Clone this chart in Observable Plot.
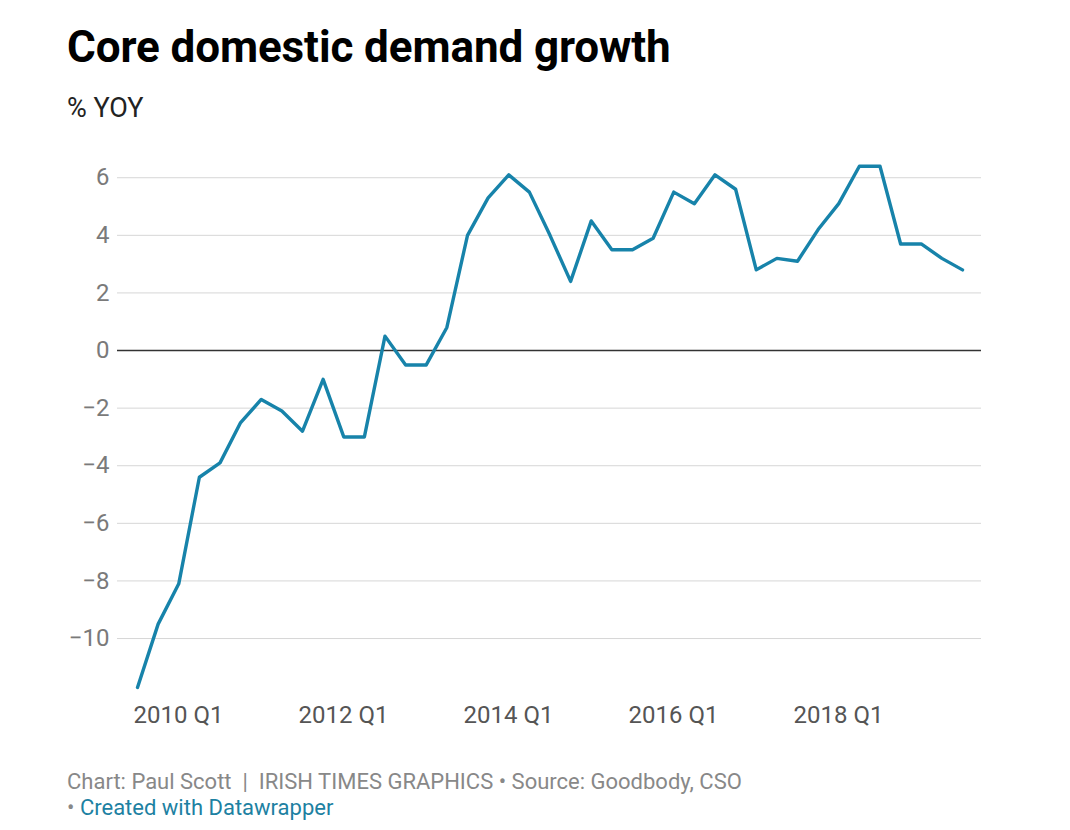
<!DOCTYPE html>
<html>
<head>
<meta charset="utf-8">
<script src="https://cdn.jsdelivr.net/npm/d3@7"></script>
<script src="https://cdn.jsdelivr.net/npm/@observablehq/plot@0.6"></script>
<style>
  html, body { margin: 0; padding: 0; background: #fff; }
  body { width: 1070px; height: 830px; position: relative; font-family: Roboto, "Noto Sans", sans-serif; overflow: hidden; }
  #title { position: absolute; left: 67px; top: 25px; font-size: 44px; line-height: 44px; font-weight: 700; color: #000; white-space: nowrap; letter-spacing: -0.1px; }
  #subtitle { position: absolute; left: 67px; top: 95px; font-size: 27px; line-height: 27px; color: #222; white-space: nowrap; }
  #chart { position: absolute; left: 0; top: 150px; }
  #footer1, #footer2 { position: absolute; left: 67px; font-size: 22px; line-height: 22px; color: #888; white-space: nowrap; }
  #footer1 { top: 771px; }
  #footer2 { top: 797px; }
  #footer2 .link { color: #1d81a2; }
</style>
</head>
<body>
<div id="title">Core domestic demand growth</div>
<div id="subtitle">% YOY</div>
<div id="chart"></div>
<div id="footer1">Chart: Paul Scott &nbsp;|&nbsp; IRISH TIMES GRAPHICS • Source: Goodbody, CSO</div>
<div id="footer2">• <span class="link">Created with Datawrapper</span></div>
<script>
const quarters = [
  "2010 Q1","2010 Q2","2010 Q3","2010 Q4",
  "2011 Q1","2011 Q2","2011 Q3","2011 Q4",
  "2012 Q1","2012 Q2","2012 Q3","2012 Q4",
  "2013 Q1","2013 Q2","2013 Q3","2013 Q4",
  "2014 Q1","2014 Q2","2014 Q3","2014 Q4",
  "2015 Q1","2015 Q2","2015 Q3","2015 Q4",
  "2016 Q1","2016 Q2","2016 Q3","2016 Q4",
  "2017 Q1","2017 Q2","2017 Q3","2017 Q4",
  "2018 Q1","2018 Q2","2018 Q3","2018 Q4",
  "2019 Q1","2019 Q2","2019 Q3","2019 Q4",
  "2020 Q1"
];
const growth = [
  -11.7, -9.5, -8.1, -4.4,
  -3.9, -2.5, -1.7, -2.1,
  -2.8, -1.0, -3.0, -3.0,
  0.5, -0.5, -0.5, 0.8,
  4.0, 5.3, 6.1, 5.5,
  4.0, 2.4, 4.5, 3.5,
  3.5, 3.9, 5.5, 5.1,
  6.1, 5.6, 2.8, 3.2,
  3.1, 4.2, 5.1, 6.4,
  6.4, 3.7, 3.7, 3.2,
  2.8
];
const xTickLabels = ["2010 Q1","2012 Q1","2014 Q1","2016 Q1","2018 Q1"];
const yTicks = [-10, -8, -6, -4, -2, 0, 2, 4, 6];

const data = quarters.map((q, i) => ({q, i, v: growth[i]}));
const xTicks = xTickLabels.map(l => quarters.indexOf(l));

const chart = Plot.plot({
  width: 1070,
  height: 597,
  marginLeft: 117,
  marginRight: 89,
  marginTop: 15.7,
  marginBottom: 60,
  style: {fontFamily: "Roboto, sans-serif", background: "transparent", overflow: "visible"},
  x: {domain: [0, quarters.length - 1], insetLeft: 20, insetRight: 19},
  y: {domain: [-11.7, 6.4]},
  marks: [
    Plot.ruleY(yTicks.filter(d => d !== 0), {stroke: "#d6d6d6", strokeWidth: 1}),
    Plot.ruleY([0], {stroke: "#333", strokeWidth: 1.5}),
    Plot.axisY({ticks: yTicks, tickSize: 0, tickPadding: 8, fontSize: 24, fill: "#7a7a7a", label: null}),
    Plot.axisX({ticks: xTicks, tickFormat: i => quarters[i], tickSize: 0, tickPadding: 18, textAnchor: "start", dx: -4, fontSize: 24, fill: "#555", label: null}),
    Plot.line(data, {x: "i", y: "v", stroke: "#1783aa", strokeWidth: 3.4, strokeLinejoin: "round", strokeLinecap: "round"})
  ]
});
document.getElementById("chart").appendChild(chart);
</script>
</body>
</html>
